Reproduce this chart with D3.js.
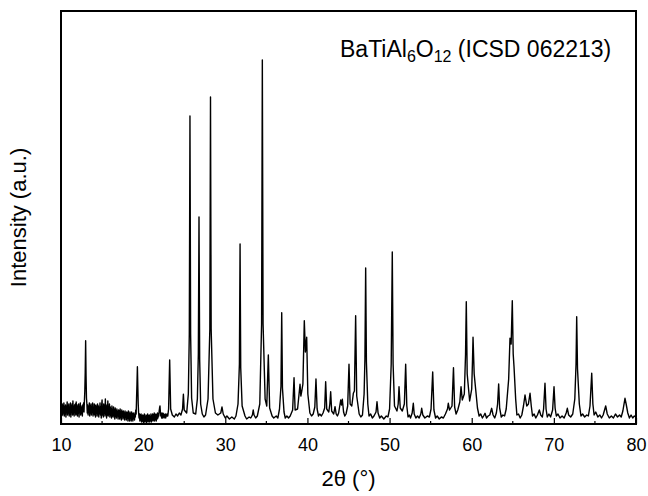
<!DOCTYPE html>
<html>
<head>
<meta charset="utf-8">
<script src="https://cdn.jsdelivr.net/npm/d3@7"></script>
<style>
  body { margin: 0; background: #fff; }
  svg { display: block; }
</style>
</head>
<body>
<script>
// XRD scan. 2theta (deg), intensity (a.u.)
// low angle part (10-23 deg) is the noisy region
var lowAngle = [
  [10.00,150],[10.05,70],[10.10,120],[10.15,200],[10.20,90],[10.25,180],[10.30,110],[10.35,210],[10.40,80],[10.45,170],
  [10.50,100],[10.55,190],[10.60,70],[10.65,160],[10.70,120],[10.75,220],[10.80,90],[10.85,180],[10.90,110],[10.95,200],
  [11.00,80],[11.05,160],[11.10,100],[11.15,210],[11.20,70],[11.25,180],[11.30,130],[11.35,200],[11.40,90],[11.45,230],
  [11.50,100],[11.55,170],[11.60,80],[11.65,190],[11.70,120],[11.75,200],[11.80,90],[11.85,220],[11.90,100],[11.95,170],
  [12.00,80],[12.05,190],[12.10,110],[12.15,200],[12.20,70],[12.25,170],[12.30,120],[12.35,210],[12.40,90],[12.45,180],
  [12.50,110],[12.55,160],[12.60,80],[12.65,190],[12.70,130],[12.75,210],[12.80,120],[12.85,230],[12.90,330],[12.95,520],
  [13.00,833],[13.05,480],[13.10,260],[13.15,200],[13.20,110],[13.25,190],[13.30,90],[13.35,170],[13.40,120],[13.45,210],
  [13.50,80],[13.55,180],[13.60,110],[13.65,200],[13.70,90],[13.75,170],[13.80,120],[13.85,210],[13.90,80],[13.95,160],
  [14.00,100],[14.05,200],[14.10,90],[14.15,180],[14.20,70],[14.25,190],[14.30,110],[14.35,170],[14.40,80],[14.45,200],
  [14.50,100],[14.55,180],[14.60,70],[14.65,160],[14.70,110],[14.75,210],[14.80,90],[14.85,170],[14.90,60],[14.95,190],
  [15.00,240],[15.05,90],[15.10,170],[15.15,70],[15.20,200],[15.25,110],[15.30,180],[15.35,80],[15.40,250],[15.45,100],
  [15.50,170],[15.55,60],[15.60,190],[15.65,90],[15.70,230],[15.75,80],[15.80,160],[15.85,100],[15.90,200],[15.95,70],
  [16.00,170],[16.05,90],[16.10,150],[16.15,60],[16.20,180],[16.25,80],[16.30,140],[16.35,70],[16.40,170],[16.45,90],
  [16.50,140],[16.55,50],[16.60,160],[16.65,80],[16.70,130],[16.75,60],[16.80,150],[16.85,90],[16.90,120],[16.95,50],
  [17.00,140],[17.05,80],[17.10,130],[17.15,50],[17.20,150],[17.25,70],[17.30,120],[17.35,40],[17.40,140],[17.45,80],
  [17.50,120],[17.55,50],[17.60,130],[17.65,70],[17.70,110],[17.75,40],[17.80,130],[17.85,70],[17.90,110],[17.95,40],
  [18.00,120],[18.05,60],[18.10,110],[18.15,30],[18.20,130],[18.25,60],[18.30,100],[18.35,30],[18.40,120],[18.45,60],
  [18.50,100],[18.55,30],[18.60,120],[18.65,50],[18.70,100],[18.75,30],[18.80,110],[18.85,60],[18.90,90],[18.95,40],
  [19.00,110],[19.05,70],[19.10,140],[19.15,100],[19.20,260],[19.25,400],[19.30,573],[19.35,380],[19.40,200],[19.45,110],
  [19.50,60],[19.55,100],[19.60,30],[19.65,90],[19.70,40],[19.75,100],[19.80,20],[19.85,80],[19.90,30],[19.95,90],
  [20.00,20],[20.05,80],[20.10,30],[20.15,100],[20.20,20],[20.25,70],[20.30,30],[20.35,90],[20.40,15],[20.45,80],
  [20.50,30],[20.55,100],[20.60,20],[20.65,80],[20.70,30],[20.75,90],[20.80,20],[20.85,70],[20.90,40],[20.95,100],
  [21.00,20],[21.05,80],[21.10,40],[21.15,100],[21.20,30],[21.25,90],[21.30,40],[21.35,110],[21.40,30],[21.45,90],
  [21.50,50],[21.55,100],[21.60,30],[21.65,90],[21.70,50],[21.75,110],[21.80,60],[21.85,100],[21.90,80],[21.95,130],
  [22.00,160],[22.05,180],[22.10,120],[22.15,80],[22.20,110],[22.25,60],[22.30,100],[22.35,60],[22.40,110],[22.45,70],
  [22.50,100],[22.55,60],[22.60,90],[22.65,70],[22.70,100],[22.75,60],[22.80,90],[22.85,80],[22.90,100],[22.95,80]
];

// 23-80 deg, peaks with their bases
var highAngle = [
  [23.0,80],[23.1,150],[23.23,640],[23.35,150],[23.55,90],
  [23.8,70],[24.0,100],[24.2,80],[24.4,110],[24.6,90],[24.8,150],[24.9,297],[25.0,140],
  [25.3,110],[25.5,300],[25.62,900],[25.7,3080],[25.78,900],[25.9,260],
  [26.1,110],[26.4,100],[26.6,250],[26.72,700],[26.8,2070],[26.88,650],[27.0,200],[27.2,100],
  [27.4,70],[27.6,90],[27.9,250],[28.12,950],[28.2,3270],[28.28,950],[28.5,250],[28.8,110],
  [29.1,90],[29.45,110],[29.6,170],[29.75,100],[30.0,60],[30.2,80],[30.5,50],[30.8,70],[31.1,50],[31.3,80],
  [31.55,200],[31.72,600],[31.8,1800],[31.88,560],[32.05,180],[32.4,80],
  [32.6,50],[32.9,70],[33.1,60],[33.3,90],[33.4,140],[33.5,90],[33.7,60],[33.9,80],[34.2,200],[34.42,1000],[34.51,3640],[34.6,1000],[34.85,250],
  [35.05,180],[35.24,690],[35.4,160],[35.7,80],[35.9,60],[36.2,80],[36.4,60],[36.6,150],[36.78,380],[36.87,1113],[36.96,360],[37.15,120],
  [37.3,60],[37.5,80],[37.7,60],
  [37.9,80],[38.2,140],[38.37,463],[38.5,140],[38.8,150],[39.1,397],[39.2,280],[39.3,323],[39.45,400],[39.62,1033],
  [39.75,720],[39.91,867],[40.05,300],[40.3,110],
  [40.5,80],[40.7,100],[40.9,170],[41.04,450],[41.18,150],[41.35,80],[41.5,100],[41.7,80],[41.9,110],[42.1,160],[42.22,423],[42.35,150],[42.6,120],
  [42.73,200],[42.83,323],[42.95,130],[43.2,100],[43.36,173],[43.5,100],[43.65,80],[43.8,110],[44.05,240],[44.15,190],[44.25,247],
  [44.4,120],[44.55,80],[44.7,100],
  [44.9,180],[45.06,597],[45.2,200],[45.4,180],[45.59,307],[45.72,330],[45.87,1083],[46.0,280],[46.3,100],[46.5,70],[46.7,90],
  [46.9,300],[47.0,650],[47.09,1560],[47.18,620],[47.35,200],[47.5,80],[47.7,100],[47.9,60],[48.1,80],[48.35,120],[48.47,223],[48.6,110],
  [48.8,60],[49.0,80],[49.3,50],[49.6,80],[49.8,70],
  [50.0,150],[50.2,600],[50.33,1720],[50.43,600],[50.6,180],[50.9,130],[51.05,200],[51.15,373],[51.3,160],[51.55,130],
  [51.8,200],[51.96,597],[52.1,180],[52.25,70],[52.4,90],[52.55,60],[52.75,110],[52.89,207],[53.0,100],[53.2,60],[53.4,80],[53.6,60],[53.8,100],[53.91,157],
  [54.05,90],[54.3,60],[54.6,80],[54.85,70],[55.05,150],[55.25,520],[55.4,140],[55.6,60],[55.8,80],[56.05,50],[56.3,70],[56.55,60],[56.8,100],[57.05,150],[57.15,207],
  [57.3,140],[57.6,180],[57.78,563],[57.92,170],[58.1,100],[58.3,140],[58.55,220],[58.7,373],[58.85,240],[59.1,300],[59.25,700],
  [59.34,1223],[59.45,500],[59.75,230],[60.0,350],[60.1,650],[60.16,867],[60.3,500],[60.49,340],[60.7,160],[60.9,80],[61.1,100],
  [61.3,60],[61.45,80],[61.62,107],[61.8,60],[62.0,80],[62.2,90],[62.43,157],[62.6,90],[62.8,60],[63.0,110],[63.15,200],[63.28,400],[63.4,160],
  [63.6,70],[63.8,90],[64.0,80],[64.2,150],[64.5,450],[64.66,857],[64.8,800],[64.94,1233],[65.05,700],[65.15,573],[65.35,250],[65.5,90],[65.7,100],
  [65.9,60],[66.1,90],[66.3,180],[66.49,290],[66.7,180],[66.9,200],[67.1,307],[67.25,180],[67.4,80],[67.6,100],[67.8,60],[68.0,90],[68.23,140],
  [68.4,90],[68.6,70],[68.75,150],[68.92,407],[69.05,150],[69.2,70],[69.4,100],[69.6,70],[69.85,140],[70.02,373],[70.15,160],[70.3,80],[70.5,100],[70.75,60],[71.0,80],
  [71.25,60],[71.5,110],[71.64,157],[71.8,90],[72.05,70],[72.3,100],[72.55,250],[72.7,600],[72.78,1073],[72.88,550],[73.1,200],[73.3,80],[73.5,100],
  [73.75,70],[74.0,90],[74.2,80],[74.4,180],[74.61,507],[74.75,200],[74.9,90],[75.1,120],[75.35,70],[75.6,90],[75.8,60],[76.0,90],[76.31,180],[76.5,100],
  [76.75,60],[77.0,80],[77.25,60],[77.5,100],[77.75,70],[78.0,90],[78.2,70],[78.4,130],[78.66,257],[78.8,200],[79.0,110],[79.2,60],[79.4,90],[79.6,60],[79.8,80],[80.0,70]
];

var xTicks = [10, 20, 30, 40, 50, 60, 70, 80];
var xMinorTicks = [15, 25, 35, 45, 55, 65, 75];

var width = 648, height = 496;
var margin = {left: 61, right: 12, top: 11, bottom: 72};
var font = "Liberation Sans, Arial, sans-serif";

var svg = d3.select("body").append("svg")
    .attr("width", width)
    .attr("height", height);

var x = d3.scaleLinear()
    .domain([10, 80])
    .range([margin.left, width - margin.right]);
var y = d3.scaleLinear()
    .domain([0, 4130])
    .range([height - margin.bottom, margin.top]);

var scan = lowAngle.concat(highAngle);

var line = d3.line()
    .x(function(d) { return x(d[0]); })
    .y(function(d) { return y(d[1]); });

svg.append("path")
    .datum(scan)
    .attr("fill", "none")
    .attr("stroke", "#000")
    .attr("stroke-width", 1.4)
    .attr("stroke-linejoin", "round")
    .attr("d", line);

// inward ticks on the bottom
var xAxis = d3.axisBottom(x)
    .tickValues(xTicks)
    .tickSizeInner(-6)
    .tickSizeOuter(0)
    .tickPadding(14)
    .tickFormat(d3.format("d"));

var gx = svg.append("g")
    .attr("transform", "translate(0," + y(0) + ")")
    .call(xAxis);
gx.select(".domain").remove();
gx.selectAll("line").attr("stroke", "#000").attr("stroke-width", 1.2);
gx.selectAll("text")
    .attr("font-family", font)
    .attr("font-size", 18)
    .attr("fill", "#000");

svg.append("g")
    .selectAll("line")
    .data(xMinorTicks)
    .enter().append("line")
    .attr("x1", function(d) { return x(d); })
    .attr("x2", function(d) { return x(d); })
    .attr("y1", y(0))
    .attr("y2", y(0) - 3)
    .attr("stroke", "#000")
    .attr("stroke-width", 1.2);

// frame
svg.append("rect")
    .attr("x", x(10))
    .attr("y", y(4130))
    .attr("width", x(80) - x(10))
    .attr("height", y(0) - y(4130))
    .attr("fill", "none")
    .attr("stroke", "#000")
    .attr("stroke-width", 2);

svg.append("text")
    .attr("x", (x(10) + x(80)) / 2)
    .attr("y", 486)
    .attr("text-anchor", "middle")
    .attr("font-family", font)
    .attr("font-size", 22)
    .text("2\u03b8 (\u00b0)");

svg.append("text")
    .attr("transform", "translate(26," + (y(2065)) + ")rotate(-90)")
    .attr("text-anchor", "middle")
    .attr("font-family", font)
    .attr("font-size", 22)
    .text("Intensity (a.u.)");

// phase label with subscripts
var label = svg.append("text")
    .attr("x", 340)
    .attr("y", 57)
    .attr("font-family", font)
    .attr("font-size", 23);
label.append("tspan").text("BaTiAl");
label.append("tspan").attr("dy", 5).attr("font-size", 16).text("6");
label.append("tspan").attr("dy", -5).text("O");
label.append("tspan").attr("dy", 5).attr("font-size", 16).text("12");
label.append("tspan").attr("dy", -5).text(" (ICSD 062213)");
</script>
</body>
</html>
